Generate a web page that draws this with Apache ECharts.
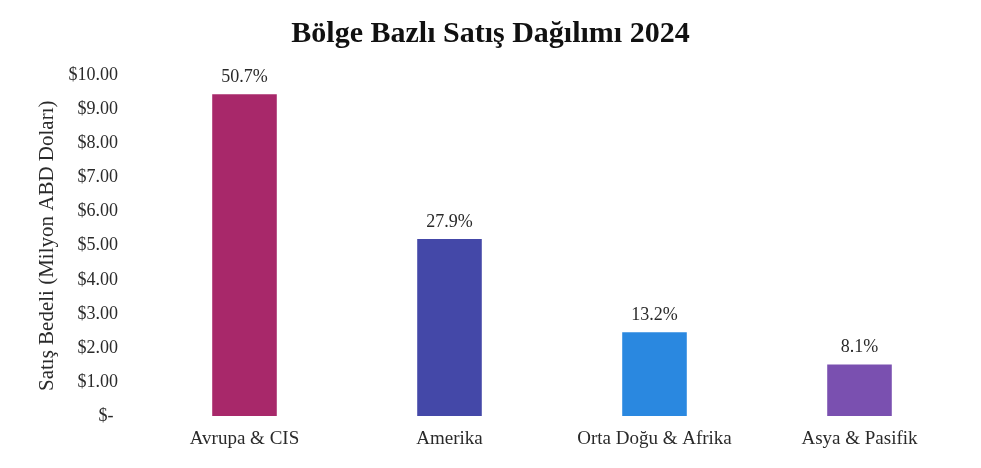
<!DOCTYPE html>
<html>
<head>
<meta charset="utf-8">
<script src="https://cdn.jsdelivr.net/npm/echarts@6/dist/echarts.min.js"></script>
<style>
  html, body { margin: 0; padding: 0; background: #fff; }
  #chart { width: 981px; height: 468px; }
</style>
</head>
<body>
<div id="chart"></div>
<script>
// data
const regions = ['Avrupa & CIS', 'Amerika', 'Orta Doğu & Afrika', 'Asya & Pasifik']
const sales = [9.45, 5.2, 2.46, 1.51] // milyon USD
const shares = ['50.7%', '27.9%', '13.2%', '8.1%']
const barColors = ['#a8286a', '#4448a8', '#2a88e0', '#7a50b0']

const serif = '"Liberation Serif", "DejaVu Serif", serif'

const chart = echarts.init(document.getElementById('chart'))
chart.setOption({
  animation: false,
  title: {
    text: 'Bölge Bazlı Satış Dağılımı 2024',
    left: 'center',
    top: 14,
    textStyle: { fontFamily: serif, fontSize: 30, fontWeight: 'bold', color: '#111' }
  },
  grid: { left: 142, right: 19, top: 75.5, bottom: 52 },
  xAxis: {
    type: 'category',
    data: regions,
    axisLine: { show: false },
    axisTick: { show: false },
    axisLabel: { fontFamily: serif, fontSize: 19, color: '#2a2a2a', margin: 14 }
  },
  yAxis: {
    type: 'value',
    min: 0,
    max: 10,
    interval: 1,
    name: 'Satış Bedeli (Milyon ABD Doları)',
    nameLocation: 'middle',
    nameGap: 82,
    nameTextStyle: { fontFamily: serif, fontSize: 21, color: '#2a2a2a' },
    splitLine: { show: false },
    axisLine: { show: false },
    axisTick: { show: false },
    axisLabel: {
      fontFamily: serif,
      fontSize: 18,
      color: '#2a2a2a',
      margin: 24,
      formatter: v => v === 0 ? '$- ' : '$' + v.toFixed(2)
    }
  },
  series: [{
    type: 'bar',
    barWidth: '31.5%',
    data: sales.map((v, i) => ({ value: v, itemStyle: { color: barColors[i] } })),
    label: {
      show: true,
      position: 'top',
      distance: 8,
      fontFamily: serif,
      fontSize: 18,
      color: '#2a2a2a',
      formatter: p => shares[p.dataIndex]
    }
  }]
})
</script>
</body>
</html>
